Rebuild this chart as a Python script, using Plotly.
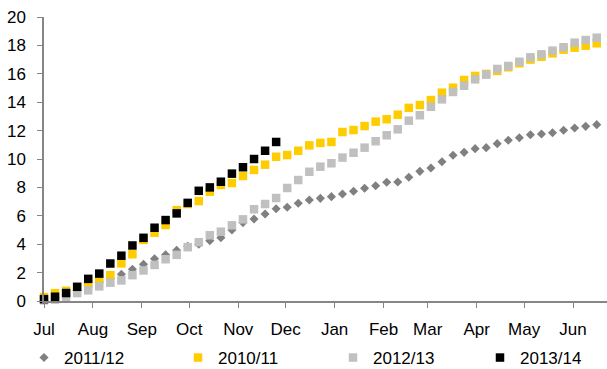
import pandas as pd
import plotly.graph_objects as go

# Cumulative weekly totals by season (weeks starting 1 July)
season_start = "2013-07-01"

s2011_12 = [0.05, 0.2, 0.4, 0.75, 1.1, 1.35, 1.6, 1.88, 2.23, 2.58, 2.98, 3.26, 3.57,
            3.85, 4.0, 4.25, 4.46, 5.0, 5.52, 5.77, 6.13, 6.5, 6.6, 6.88, 7.11, 7.23,
            7.35, 7.54, 7.73, 7.94, 8.12, 8.36, 8.38, 8.71, 9.13, 9.37, 9.81, 10.26,
            10.47, 10.73, 10.8, 11.08, 11.32, 11.5, 11.71, 11.76, 11.85, 12.02, 12.18,
            12.3, 12.42, 12.46]
s2010_11 = [0.28, 0.55, 0.72, 0.95, 1.23, 1.53, 1.82, 2.65, 3.29, 4.3, 4.81, 5.35, 6.4,
            6.83, 7.04, 7.7, 8.17, 8.31, 8.8, 9.23, 9.6, 10.16, 10.28, 10.58, 10.96,
            11.13, 11.2, 11.9, 12.04, 12.32, 12.63, 12.8, 13.12, 13.6, 13.8, 14.15,
            14.67, 15.02, 15.56, 15.85, 15.99, 16.2, 16.46, 16.74, 17.0, 17.2, 17.44,
            17.7, 17.84, 17.98, 18.15, 18.33]
s2012_13 = [0.05, 0.1, 0.2, 0.56, 0.75, 1.03, 1.29, 1.45, 1.82, 2.15, 2.54, 2.94, 3.25,
            3.79, 4.14, 4.63, 4.88, 5.33, 5.75, 6.46, 6.83, 7.25, 7.96, 8.52, 9.1, 9.46,
            9.7, 10.1, 10.44, 10.8, 11.25, 11.67, 12.09, 12.7, 13.08, 13.68, 14.2,
            14.72, 15.16, 15.61, 15.94, 16.34, 16.55, 16.85, 17.16, 17.37, 17.63,
            17.87, 18.19, 18.38, 18.54, 18.73]
s2013_14 = [0.13, 0.3, 0.56, 1.0, 1.56, 1.93, 2.64, 3.19, 3.91, 4.45, 5.16, 5.7, 6.17,
            6.91, 7.76, 8.0, 8.4, 8.97, 9.42, 10.0, 10.58, 11.2]

y_ticks = [0, 2, 4, 6, 8, 10, 12, 14, 16, 18, 20]

weeks = pd.date_range(season_start, periods=len(s2011_12), freq="7D")

W, H = 607, 369
font = dict(family="Liberation Sans, Arial, sans-serif", size=17, color="#000000")

# name, values, symbol, colour, size, legend id, legend left edge (px)
series = [
    ("2011/12", s2011_12, "diamond", "#808080", 7, "legend", 24),
    ("2010/11", s2010_11, "square", "#FFCC00", 8.5, "legend2", 178),
    ("2012/13", s2012_13, "square", "#C0C0C0", 8.5, "legend3", 333),
    ("2013/14", s2013_14, "square", "#000000", 8.5, "legend4", 480),
]

fig = go.Figure()
legends = {}
for name, vals, sym, col, size, leg, left in series:
    fig.add_trace(go.Scatter(
        x=weeks[:len(vals)], y=vals, name=name, mode="markers",
        marker=dict(symbol=sym, color=col, size=size, line=dict(width=0)),
        cliponaxis=False, legend=leg, showlegend=True,
    ))
    legends[leg] = dict(
        orientation="h", xref="container", x=left / W, xanchor="left",
        yref="container", y=1 - 340 / H, yanchor="top",
        font=font, itemclick=False, bgcolor="rgba(0,0,0,0)",
    )

x_end = pd.Timestamp(season_start) + pd.Timedelta(days=356.5)

fig.update_layout(
    width=W, height=H,
    margin=dict(l=44, r=0, t=17, b=68, autoexpand=False),
    paper_bgcolor="white", plot_bgcolor="white",
    font=font,
    **legends,
    xaxis=dict(
        type="date", range=[pd.Timestamp(season_start), x_end],
        tick0=season_start, dtick="M1", tickformat="%b",
        showgrid=False, zeroline=False,
        showline=True, linecolor="#868686", linewidth=1.5,
        ticks="outside", ticklen=5, tickcolor="#868686", tickwidth=1,
        ticklabelstandoff=7,
        tickfont=font,
    ),
    yaxis=dict(
        range=[0, 20], tickvals=y_ticks,
        showgrid=False, zeroline=False,
        showline=True, linecolor="#868686", linewidth=1.5,
        ticks="outside", ticklen=5, tickcolor="#868686", tickwidth=1,
        ticklabelstandoff=8,
        tickfont=font,
    ),
)

fig.write_html("out.html")
